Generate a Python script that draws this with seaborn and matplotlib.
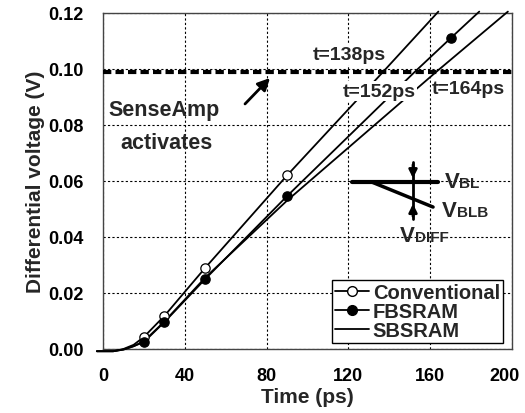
import numpy as np
import pandas as pd
import seaborn as sns
import matplotlib.pyplot as plt
import matplotlib.transforms as mtrans
from matplotlib.lines import Line2D

# curve vertices (time in ps, differential voltage in V)
conv_t = [-3, 5, 10, 15, 20, 30, 50, 90, 137, 164]
conv_v = [-0.0008, -0.0008, 0.0, 0.0015, 0.0043, 0.0118, 0.029, 0.062, 0.099, 0.1205]
fb_t = [-3, 5, 10, 15, 20, 30, 50, 90, 152.5, 170, 184]
fb_v = [-0.0008, -0.0008, -0.0002, 0.001, 0.0025, 0.0096, 0.025, 0.0546, 0.099, 0.111, 0.1205]
sb_t = [-3, 5, 10, 15, 20, 30, 50, 90, 163, 198]
sb_v = [-0.0008, -0.0008, -0.0002, 0.001, 0.0028, 0.0098, 0.0255, 0.053, 0.099, 0.1205]

# marker positions
conv_mt = [20, 30, 50, 90]
conv_mv = [0.0043, 0.0118, 0.029, 0.062]
fb_mt = [20, 30, 50, 90, 170]
fb_mv = [0.0025, 0.0096, 0.025, 0.0546, 0.111]

threshold = 0.099
x_ticks = [0, 40, 80, 120, 160, 200]
y_ticks = [0.00, 0.02, 0.04, 0.06, 0.08, 0.10, 0.12]

sns.set_style("white")
plt.rcParams['font.family'] = ['Liberation Sans', 'DejaVu Sans']
plt.rcParams['font.weight'] = 'bold'

fig = plt.figure(figsize=(5.25, 4.14), dpi=100)
ax = fig.add_axes([0.1962, 0.1546, 0.779, 0.8116])

for t, v in [(conv_t, conv_v), (fb_t, fb_v), (sb_t, sb_v)]:
    sns.lineplot(x=t, y=v, ax=ax, color='k', lw=1.3, clip_on=False, zorder=3)

sns.scatterplot(x=conv_mt, y=conv_mv, ax=ax, marker='o', s=45, facecolor='white',
                edgecolor='k', linewidth=0.9, zorder=4)
sns.scatterplot(x=fb_mt, y=fb_mv, ax=ax, marker='o', s=45, color='k',
                edgecolor='k', linewidth=0.9, zorder=4)

ax.axhline(threshold, color='k', lw=3, linestyle=(0, (2, 1)), zorder=5)

ax.set_xlim(0, 200)
ax.set_ylim(0, 0.12)
ax.set_xticks(x_ticks)
ax.set_yticks(y_ticks)
ax.set_yticklabels([f"{v:.2f}" for v in y_ticks])
ax.tick_params(direction='in', length=4, width=1, labelsize=13, colors='k')
ax.tick_params(axis='x', pad=13)
ax.tick_params(axis='y', pad=14)
for lab in ax.get_xticklabels() + ax.get_yticklabels():
    lab.set_fontweight('bold')
# last x label sits a little left so it stays inside the figure
last = ax.get_xticklabels()[-1]
last.set_transform(last.get_transform() + mtrans.ScaledTranslation(-0.07, 0, fig.dpi_scale_trans))
ax.grid(True, color='k', lw=0.8, linestyle=(0, (2, 2)))
for sp in ax.spines.values():
    sp.set_color('#444444')
    sp.set_linewidth(1)

ax.set_xlabel("Time (ps)", fontsize=15, fontweight='bold', labelpad=2)
ax.set_ylabel("Differential voltage (V)", fontsize=15, fontweight='bold', labelpad=2)

# annotations
box = dict(facecolor='white', edgecolor='none', pad=1)
ax.text(102.7, 0.105, "t=138ps", fontsize=14, fontweight='bold', va='center', bbox=box, zorder=6)
ax.text(117.4, 0.0921, "t=152ps", fontsize=14, fontweight='bold', va='center', bbox=box, zorder=6)
ax.text(161, 0.0929, "t=164ps", fontsize=14, fontweight='bold', va='center', bbox=box, zorder=6)
ax.text(30, 0.0857, "SenseAmp", fontsize=15.5, fontweight='bold', ha='center', va='center', zorder=6)
ax.text(31, 0.0739, "activates", fontsize=15.5, fontweight='bold', ha='center', va='center', zorder=6)
ax.annotate("", xy=(82.6, 0.0975), xytext=(68.5, 0.0868),
            arrowprops=dict(arrowstyle='-|>', lw=2, color='k', mutation_scale=18), zorder=6)

# bit-line sketch
ax.plot([121.8, 163.8], [0.0596, 0.0596], color='k', lw=3, zorder=6)
ax.plot([131.5, 161.4], [0.0596, 0.0507], color='k', lw=2.5, zorder=6)
ax.plot([151.6, 151.6], [0.0668, 0.0464], color='k', lw=2, zorder=6)
ax.annotate("", xy=(151.6, 0.0600), xytext=(151.6, 0.0668),
            arrowprops=dict(arrowstyle='-|>', lw=2, color='k', mutation_scale=12), zorder=6)
ax.annotate("", xy=(151.6, 0.0528), xytext=(151.6, 0.0464),
            arrowprops=dict(arrowstyle='-|>', lw=2, color='k', mutation_scale=12), zorder=6)

for x0, y0, sub in [(167.2, 0.0579, "BL"), (165.8, 0.0475, "BLB"), (145.2, 0.0386, "DIFF")]:
    ax.text(x0, y0, "V", fontsize=16, fontweight='bold', va='baseline', zorder=6)
    ax.annotate(sub, xy=(x0, y0), xytext=(10.5, 0), textcoords='offset points',
                fontsize=11, fontweight='bold', va='baseline', zorder=6)

handles = [
    Line2D([], [], color='k', lw=1.3, marker='o', ms=7, mfc='white', mec='k'),
    Line2D([], [], color='k', lw=1.3, marker='o', ms=7, mfc='k', mec='k'),
    Line2D([], [], color='k', lw=1.3),
]
leg = ax.legend(handles, ["Conventional", "FBSRAM", "SBSRAM"], loc='lower right',
                bbox_to_anchor=(0.978, 0.018), borderaxespad=0, fancybox=False,
                edgecolor='k', framealpha=1, prop={'size': 14.5, 'weight': 'bold'},
                handlelength=1.7, handletextpad=0.2, labelspacing=0.0, borderpad=0.15)
leg.get_frame().set_linewidth(1)
leg.set_zorder(7)

plt.savefig("out.png", dpi=100)
